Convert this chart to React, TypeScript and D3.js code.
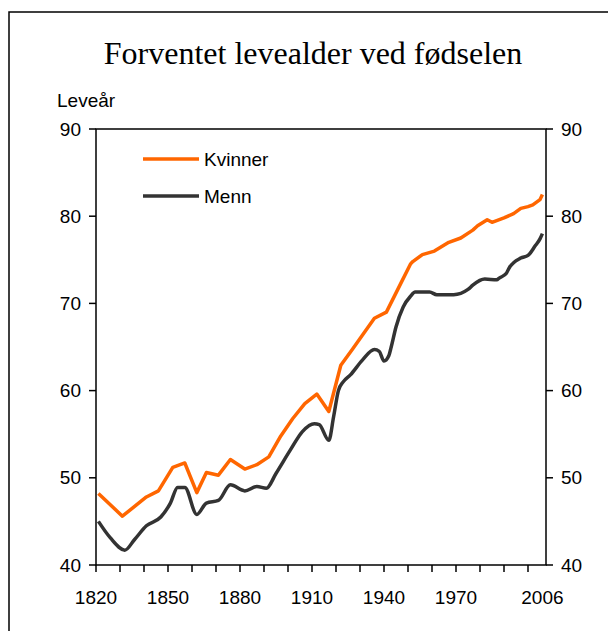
import * as d3 from "d3";
import React from "react";

// Forventet levealder ved fødselen, Norge
const kvinnerYears = [1821, 1831, 1841, 1846, 1852, 1857, 1862, 1866, 1871, 1876, 1882, 1887, 1892, 1897, 1902, 1907, 1912, 1917, 1922, 1927, 1936, 1941, 1947, 1951, 1952, 1956, 1961, 1967, 1972, 1977, 1979, 1983, 1985, 1990, 1994, 1997, 2000, 2002, 2003, 2004, 2005, 2006];
const kvinner = [48.2, 45.6, 47.8, 48.5, 51.2, 51.7, 48.3, 50.6, 50.3, 52.1, 51.0, 51.5, 52.4, 54.8, 56.8, 58.5, 59.6, 57.6, 62.9, 64.8, 68.3, 69.0, 72.3, 74.5, 74.8, 75.6, 76.0, 77.0, 77.5, 78.4, 78.9, 79.6, 79.3, 79.8, 80.3, 80.9, 81.1, 81.3, 81.5, 81.7, 81.9, 82.5];

const mennYears = [1821, 1826, 1832, 1836, 1841, 1847, 1851, 1854, 1857, 1862, 1866, 1871, 1876, 1882, 1887, 1891, 1895, 1901, 1906, 1911, 1913, 1917, 1919, 1921, 1923, 1926, 1931, 1936, 1938, 1940, 1942, 1943, 1945, 1948, 1951, 1953, 1959, 1962, 1969, 1975, 1977, 1982, 1987, 1988, 1991, 1992, 1997, 2000, 2003, 2005, 2006];
const menn = [45.0, 43.1, 41.7, 42.9, 44.5, 45.5, 47.1, 48.9, 48.9, 45.8, 47.1, 47.4, 49.2, 48.5, 49.0, 48.8, 50.5, 53.2, 55.3, 56.2, 56.1, 54.3, 57.0, 60.0, 61.0, 61.8, 63.5, 64.7, 64.5, 63.4, 64.0, 65.0, 67.3, 69.6, 70.8, 71.3, 71.3, 71.0, 71.0, 71.6, 72.1, 72.8, 72.7, 72.9, 73.45, 74.0, 75.2, 75.5, 76.6, 77.4, 78.0];

const yTicks = [40, 50, 60, 70, 80, 90];
const xMinorTicks = d3.range(1820, 2001, 10);
const xLabels = [1820, 1850, 1880, 1910, 1940, 1970, 2006];

const W = 608, H = 631;
const left = 96, right = 546, top = 129, bottom = 565;
const font = "Arial, 'Liberation Sans', sans-serif";

const App: React.FC = () => {
    const x = d3.scaleLinear().domain([1820, 2007.5]).range([left, right]);
    const y = d3.scaleLinear().domain([40, 90]).range([bottom, top]);

    const kLine = d3.line<[number, number]>().x(d => x(d[0])).y(d => y(d[1]));
    const mLine = d3.line<[number, number]>().x(d => x(d[0])).y(d => y(d[1])).curve(d3.curveMonotoneX);
    const kPath = kLine(kvinnerYears.map((yr, i) => [yr, kvinner[i]] as [number, number]))!;
    const mPath = mLine(mennYears.map((yr, i) => [yr, menn[i]] as [number, number]))!;

    return (
        <svg width={W} height={H} style={{ position: "absolute", left: 0, top: 0, background: "white" }}>
            <rect x={9} y={12} width={W + 20} height={H + 20} fill="white" stroke="black" strokeWidth={1.5} />
            <text x={313} y={64} textAnchor="middle" fontFamily="'Liberation Serif', 'Times New Roman', serif" fontSize={32}>
                Forventet levealder ved fødselen
            </text>
            <text x={57} y={107} fontFamily={font} fontSize={19}>Leveår</text>

            {/* plot frame */}
            <rect x={left} y={top} width={right - left} height={bottom - top} fill="none" stroke="black" strokeWidth={1.5} />

            {yTicks.map(t => (
                <g key={t}>
                    <line x1={left - 7} x2={left} y1={y(t)} y2={y(t)} stroke="black" strokeWidth={1.5} />
                    <line x1={right} x2={right + 7} y1={y(t)} y2={y(t)} stroke="black" strokeWidth={1.5} />
                    <text x={81} y={y(t)} dy="0.35em" textAnchor="end" fontFamily={font} fontSize={19}>{t}</text>
                    <text x={561} y={y(t)} dy="0.35em" fontFamily={font} fontSize={19}>{t}</text>
                </g>
            ))}

            {xMinorTicks.map(t => (
                <line key={t} x1={x(t)} x2={x(t)} y1={bottom} y2={bottom + 7} stroke="black" strokeWidth={1.5} />
            ))}
            {xLabels.map(t => (
                <text key={t} x={x(t)} y={604} textAnchor="middle" fontFamily={font} fontSize={19}>{t}</text>
            ))}

            <path d={mPath} fill="none" stroke="#333333" strokeWidth={3.5} strokeLinejoin="round" />
            <path d={kPath} fill="none" stroke="#FF6600" strokeWidth={3.5} strokeLinejoin="round" />

            {/* legend */}
            <line x1={143} x2={199} y1={159} y2={159} stroke="#FF6600" strokeWidth={3.5} />
            <text x={204} y={159} dy="0.35em" fontFamily={font} fontSize={19}>Kvinner</text>
            <line x1={143} x2={199} y1={196} y2={196} stroke="#333333" strokeWidth={3.5} />
            <text x={204} y={196} dy="0.35em" fontFamily={font} fontSize={19}>Menn</text>
        </svg>
    );
};

export default App;
